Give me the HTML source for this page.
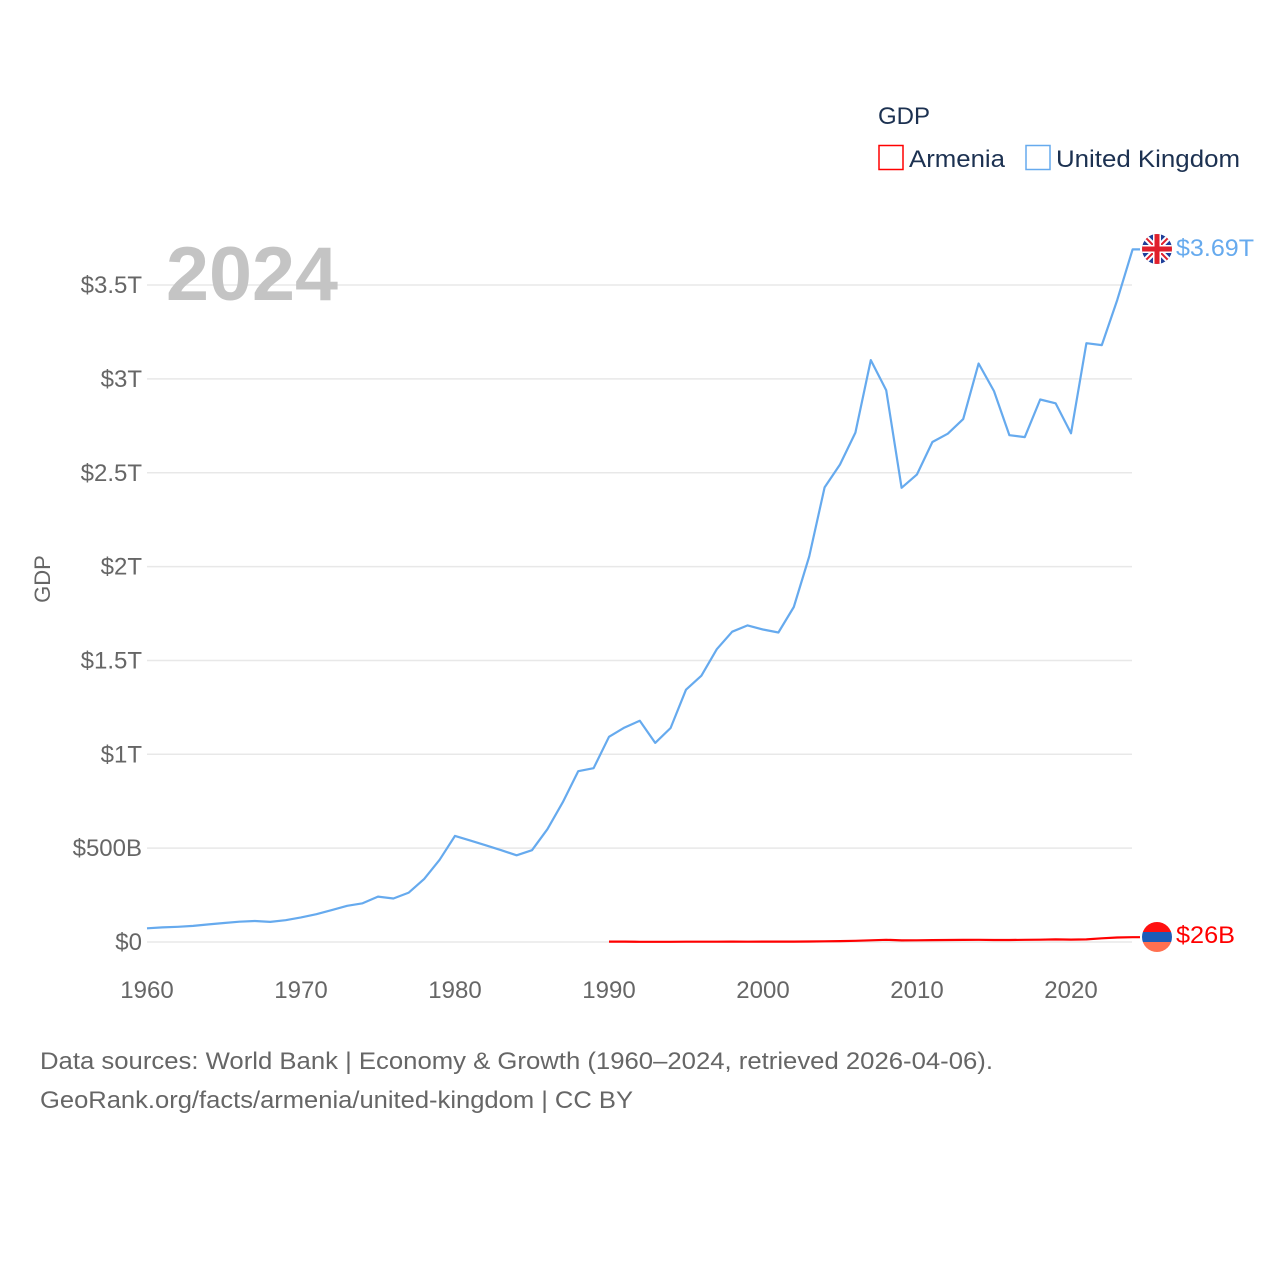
<!DOCTYPE html>
<html><head><meta charset="utf-8">
<style>
body{margin:0;background:#fff;}
svg text{font-family:"Liberation Sans",sans-serif;}
</style></head>
<body>
<svg id="chart" width="1280" height="1280" xmlns="http://www.w3.org/2000/svg">
<rect width="1280" height="1280" fill="#fff"/>
<g id="grid"></g>
<g id="yticks"></g>
<g id="xticks"></g>
<text x="166" y="300" font-size="76" font-weight="bold" fill="#c4c4c4" textLength="172" lengthAdjust="spacingAndGlyphs">2024</text>
<text transform="translate(50,579) rotate(-90)" text-anchor="middle" font-size="22" fill="#666">GDP</text>
<g id="series"></g>
<g>
<text x="878" y="124" font-size="24" fill="#1c3151">GDP</text>
<g>
<rect x="879" y="145.5" width="24" height="24" fill="none" stroke="#ff0000" stroke-width="1.5"/>
<text x="909" y="167" font-size="24" fill="#1c3151" textLength="96" lengthAdjust="spacingAndGlyphs">Armenia</text></g>
<g>
<rect x="1026" y="145.5" width="24" height="24" fill="none" stroke="#66aaee" stroke-width="1.5"/>
<text x="1056" y="167" font-size="24" fill="#1c3151" textLength="184" lengthAdjust="spacingAndGlyphs">United Kingdom</text></g>
</g>
<g>
<clipPath id="ukc"><circle cx="1157" cy="249" r="15"/></clipPath>
<g clip-path="url(#ukc)">
<rect x="1142" y="234" width="30" height="30" fill="#1f3f9a"/>
<path d="M1142 234L1172 264M1172 234L1142 264" stroke="#fff" stroke-width="6"/>
<path d="M1142 234L1172 264M1172 234L1142 264" stroke="#e0202c" stroke-width="2"/>
<path d="M1157 234V264M1142 249H1172" stroke="#fff" stroke-width="8"/>
<path d="M1157 234V264M1142 249H1172" stroke="#e0202c" stroke-width="5"/>
</g></g>
<text x="1176" y="256" font-size="24" fill="#66aaee" textLength="78" lengthAdjust="spacingAndGlyphs">$3.69T</text>
<g>
<clipPath id="amc"><circle cx="1157" cy="937" r="15"/></clipPath>
<g clip-path="url(#amc)">
<rect x="1142" y="922" width="30" height="10" fill="#ff1010"/>
<rect x="1142" y="932" width="30" height="10" fill="#1c5cb8"/>
<rect x="1142" y="942" width="30" height="10" fill="#ff7050"/>
</g></g>
<text x="1176" y="943" font-size="24" fill="#ff0000" textLength="59" lengthAdjust="spacingAndGlyphs">$26B</text>
<text x="40" y="1069" font-size="24" fill="#666" textLength="953" lengthAdjust="spacingAndGlyphs">Data sources: World Bank | Economy &amp; Growth (1960–2024, retrieved 2026-04-06).</text>
<text x="40" y="1108" font-size="24" fill="#666" textLength="593" lengthAdjust="spacingAndGlyphs">GeoRank.org/facts/armenia/united-kingdom | CC BY</text>
</svg>
<script>
const ukStart = 1960;
const ukGdpT = [0.073,0.078,0.081,0.086,0.094,0.101,0.108,0.112,0.107,0.116,0.131,0.148,0.170,0.193,0.206,0.242,0.232,0.263,0.336,0.438,0.565,0.540,0.515,0.489,0.462,0.489,0.601,0.745,0.910,0.926,1.093,1.142,1.179,1.061,1.140,1.344,1.419,1.560,1.653,1.687,1.665,1.649,1.785,2.054,2.422,2.544,2.714,3.100,2.940,2.420,2.491,2.664,2.708,2.786,3.082,2.935,2.700,2.690,2.890,2.870,2.710,3.190,3.180,3.420,3.690];
const amStart = 1990;
const amGdpB = [2.26,2.07,1.27,1.2,1.32,1.47,1.6,1.64,1.89,1.85,1.91,2.12,2.38,2.81,3.58,4.9,6.38,9.21,11.66,8.65,9.26,10.14,10.62,11.12,11.61,10.55,10.55,11.53,12.46,13.62,12.64,13.88,19.51,24.09,25.8];
const yTickVals = [0,0.5,1,1.5,2,2.5,3,3.5];
const yTickLabels = ["$0","$500B","$1T","$1.5T","$2T","$2.5T","$3T","$3.5T"];
const xTickVals = [1960,1970,1980,1990,2000,2010,2020];

const NS="http://www.w3.org/2000/svg";
const X = yr => 147 + (yr-1960)*15.4;
const Y = t => 942 - t*187.7;
function mk(tag, attrs, parent){const e=document.createElementNS(NS,tag);for(const k in attrs)e.setAttribute(k,attrs[k]);parent.appendChild(e);return e;}
const grid=document.getElementById('grid'), yt=document.getElementById('yticks'), xt=document.getElementById('xticks'), ser=document.getElementById('series');
yTickVals.forEach((v,i)=>{
  const l=mk('line',{x1:147,x2:1132,y1:Y(v),y2:Y(v),stroke:'#e8e8e8','stroke-width':1.5},grid);
  
  
  const t=mk('text',{x:142,y:Y(v)+8,'text-anchor':'end','font-size':24,fill:'#666'},yt);
  t.textContent=yTickLabels[i];
  
  
});
xTickVals.forEach(v=>{
  const t=mk('text',{x:X(v),y:998,'text-anchor':'middle','font-size':24,fill:'#666'},xt);
  t.textContent=String(v);
  
  
});
function pts(arr,start,scale){const p=arr.map((v,i)=>X(start+i).toFixed(1)+','+Y(v*scale).toFixed(1));const last=arr[arr.length-1];p.push('1140,'+Y(last*scale).toFixed(1));return p.join(' ');}
const ukLine=mk('polyline',{points:pts(ukGdpT,ukStart,1),fill:'none',stroke:'#66aaee','stroke-width':2.2,'stroke-linejoin':'round'},ser);


const amLine=mk('polyline',{points:pts(amGdpB,amStart,0.001),fill:'none',stroke:'#ff0000','stroke-width':2.2,'stroke-linejoin':'round'},ser);


</script>
</body></html>
